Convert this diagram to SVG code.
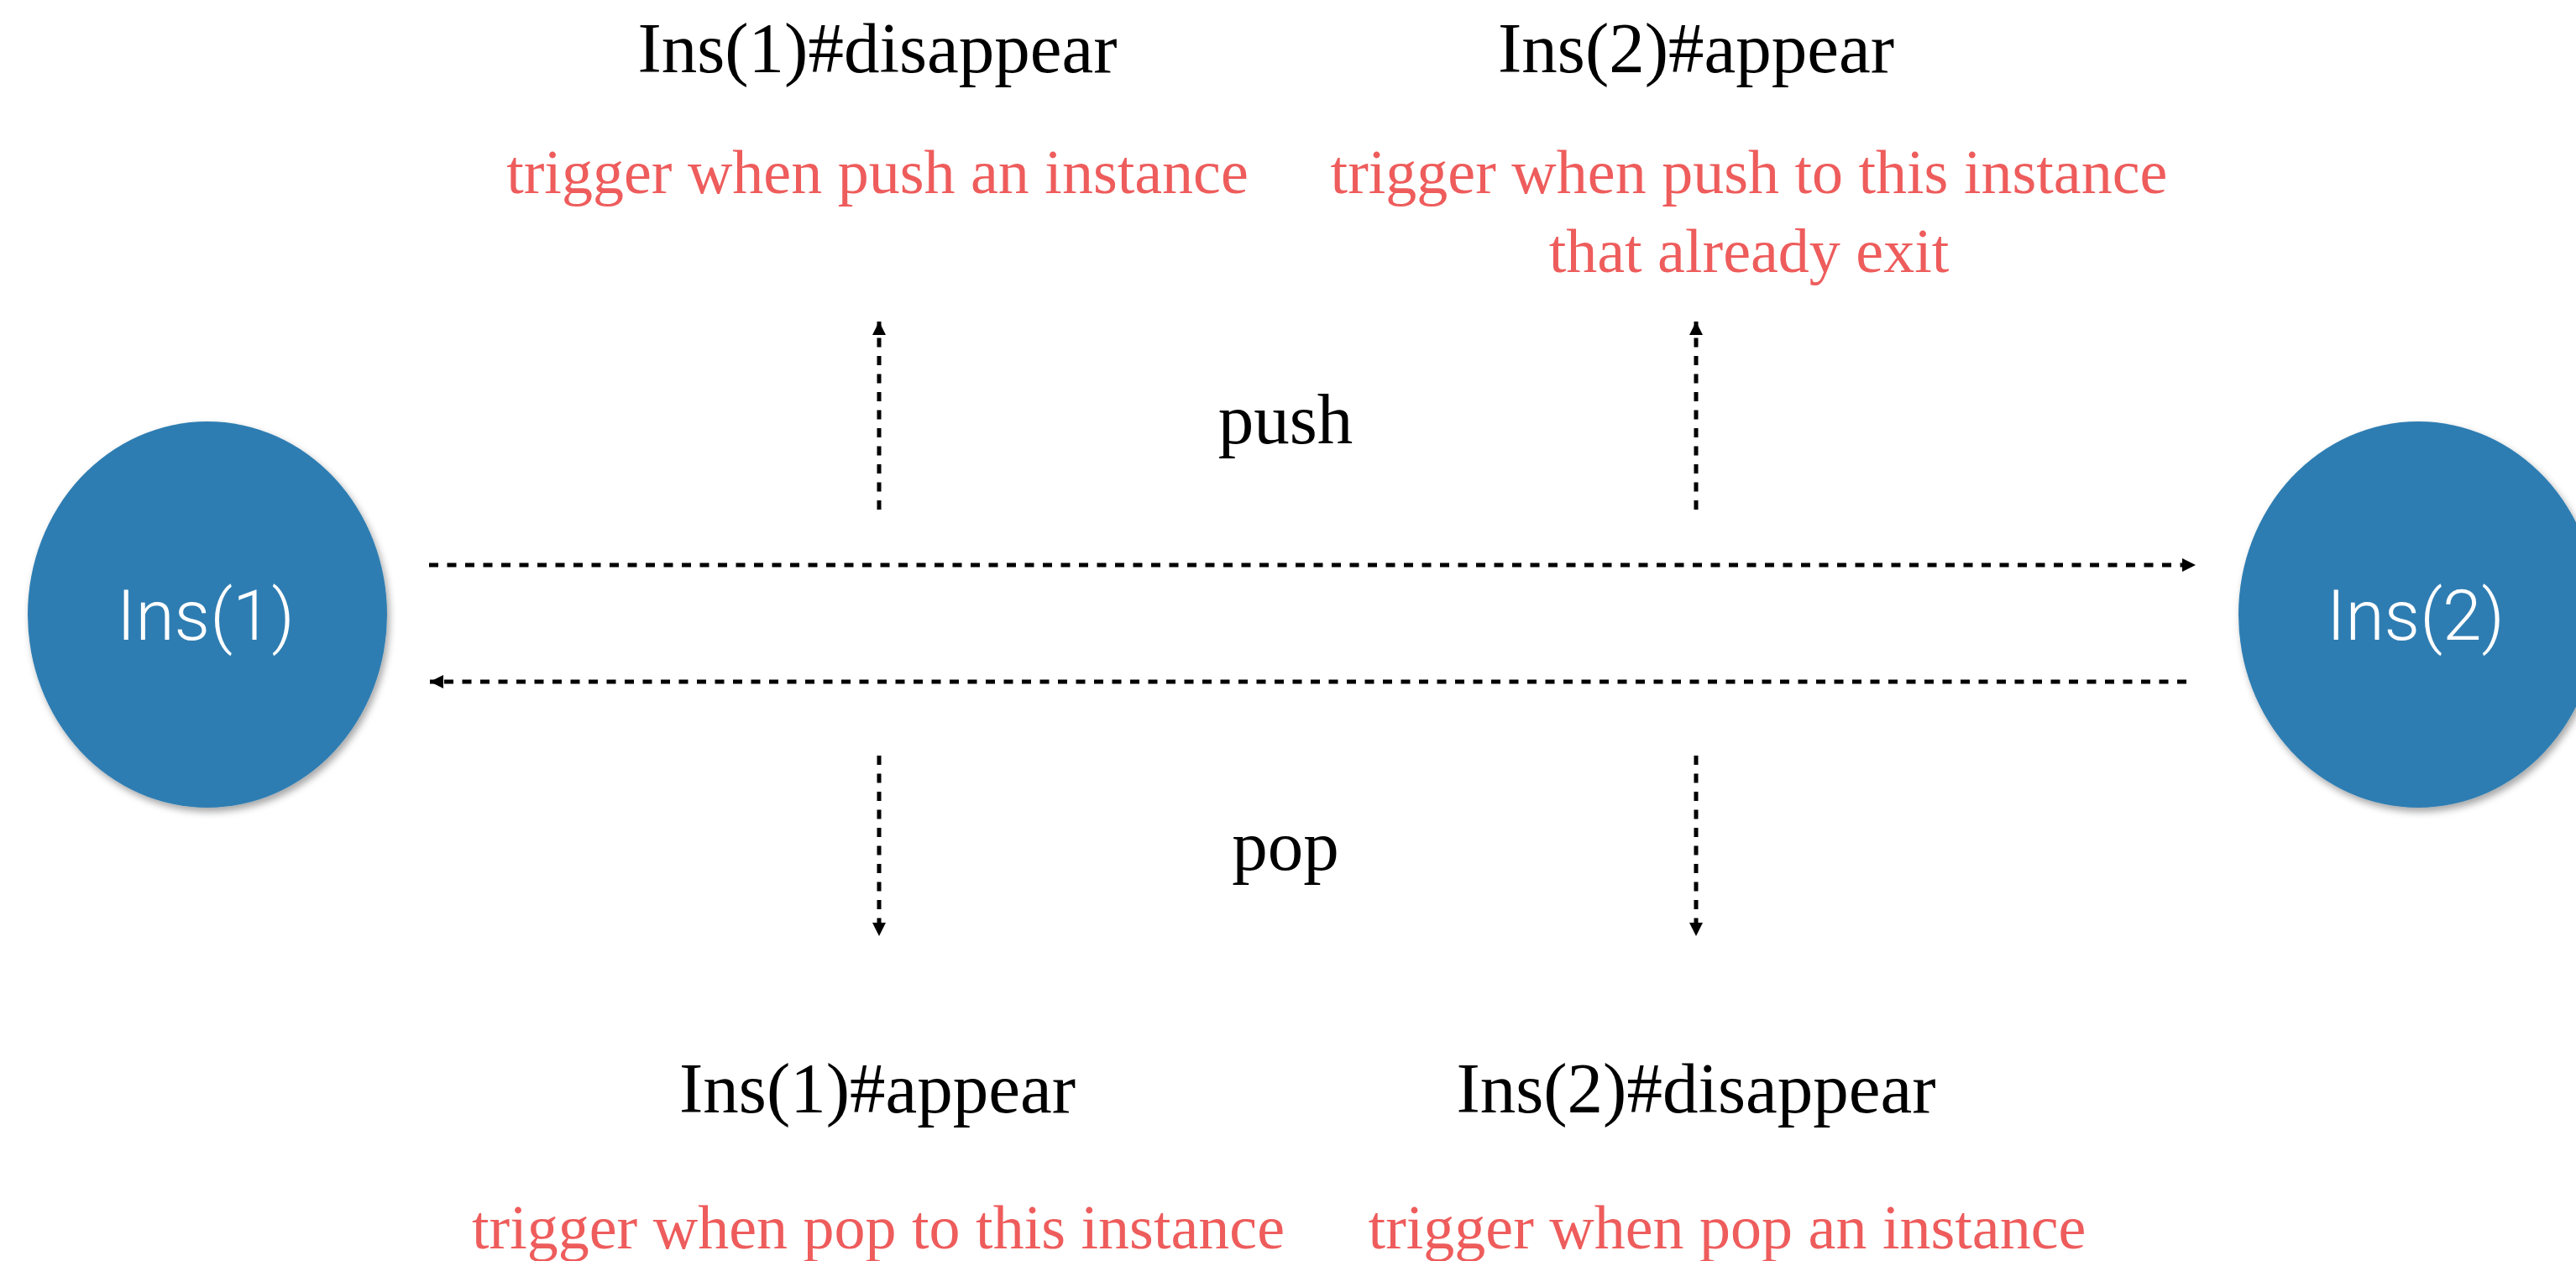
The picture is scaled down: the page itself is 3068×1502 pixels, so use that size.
<svg xmlns="http://www.w3.org/2000/svg" width="3068" height="1502" viewBox="0 0 3068 1502">
<defs>
<style>
.node{fill:#2e7db2;filter:url(#sh)}
.nlabel{font-family:Roboto,"Liberation Sans",sans-serif;font-weight:300;font-size:84px;fill:#ffffff;text-anchor:middle}
.title{font-family:"Liberation Serif",serif;font-size:85px;fill:#000000;text-anchor:middle}
.note{font-family:"Liberation Serif",serif;font-size:74px;fill:#ee5c5c;text-anchor:middle}
.conn{stroke:#000000;stroke-width:5;stroke-dasharray:11 10.5;fill:none}
</style>
<filter id="sh" x="-10%" y="-10%" width="125%" height="125%">
<feDropShadow dx="3" dy="5" stdDeviation="4" flood-color="#000000" flood-opacity="0.35"/>
</filter>
<marker id="ah" viewBox="0 0 10 10" refX="10" refY="5" markerWidth="16" markerHeight="16" markerUnits="userSpaceOnUse" orient="auto">
<path d="M0,0 L10,5 L0,10 Z" fill="#000000"/>
</marker>
</defs>
<rect width="3068" height="1502" fill="#ffffff"/>
<g id="connectors">
<line class="conn" x1="511" y1="673" x2="2615" y2="673" marker-end="url(#ah)"/>
<line class="conn" x1="2604" y1="812" x2="512" y2="812" marker-end="url(#ah)"/>
<line class="conn" x1="1047" y1="607" x2="1047" y2="383" marker-end="url(#ah)"/>
<line class="conn" x1="2020" y1="607" x2="2020" y2="383" marker-end="url(#ah)"/>
<line class="conn" x1="1047" y1="900" x2="1047" y2="1115" marker-end="url(#ah)"/>
<line class="conn" x1="2020" y1="900" x2="2020" y2="1115" marker-end="url(#ah)"/>
</g>
<g id="node-ins1">
<ellipse class="node" cx="247" cy="732" rx="214" ry="230"/>
<text class="nlabel" x="245" y="762">Ins(1)</text>
</g>
<g id="node-ins2">
<ellipse class="node" cx="2880" cy="732" rx="214" ry="230"/>
<text class="nlabel" x="2877" y="762">Ins(2)</text>
</g>
<g id="label-push">
<text class="title" x="1531" y="528">push</text>
</g>
<g id="label-pop">
<text class="title" x="1531" y="1036">pop</text>
</g>
<g id="ins1-disappear">
<text class="title" x="1045" y="86">Ins(1)#disappear</text>
<text class="note" x="1045" y="230">trigger when push an instance</text>
</g>
<g id="ins2-appear">
<text class="title" x="2020" y="86">Ins(2)#appear</text>
<text class="note" x="2083" y="230">trigger when push to this instance</text>
<text class="note" x="2083" y="324">that already exit</text>
</g>
<g id="ins1-appear">
<text class="title" x="1045" y="1325">Ins(1)#appear</text>
<text class="note" x="1046" y="1487">trigger when pop to this instance</text>
</g>
<g id="ins2-disappear">
<text class="title" x="2020" y="1325">Ins(2)#disappear</text>
<text class="note" x="2057" y="1487">trigger when pop an instance</text>
</g>
</svg>
